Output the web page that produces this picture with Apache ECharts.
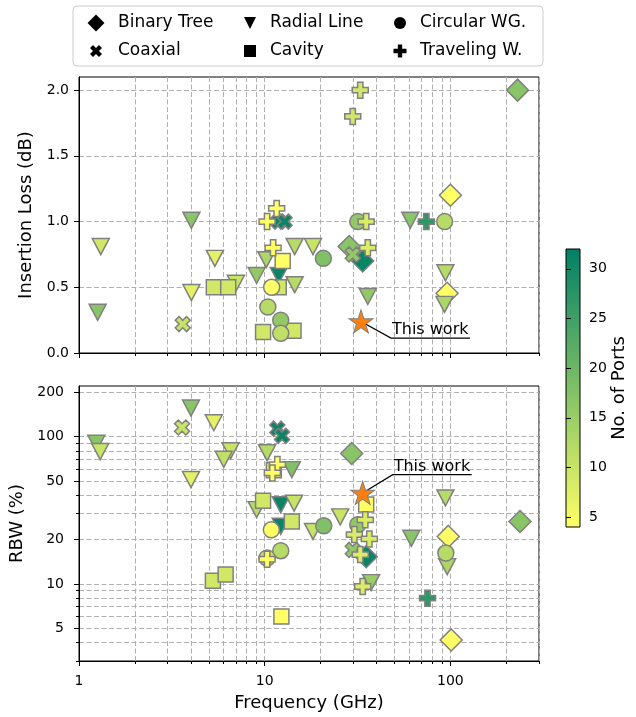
<!DOCTYPE html>
<html><head><meta charset="utf-8">
<script src="https://cdn.jsdelivr.net/npm/echarts@6/dist/echarts.min.js"></script>
<style>html,body{margin:0;padding:0;background:#fff}#c{width:636px;height:717px}</style>
</head><body><div id="c"></div>
<script>
// ---------------- data: [frequency (GHz), value, number of ports] ----------------
// Insertion loss (dB), top panel
const ilBinaryTree = [[230,2.0,17],[100,1.2,4],[28.5,0.81,17],[33.7,0.70,31],[96,0.455,4]];
const ilCoaxial    = [[3.62,0.22,10],[11.9,1.0,31],[12.8,1.0,31],[29.8,0.75,16]];
const ilRadialLine = [[1.31,0.81,9],[1.26,0.31,17],[4.03,1.01,17],[5.39,0.72,7],[4.03,0.46,7],[7.0,0.53,10],
                      [9.05,0.59,16],[10.2,0.71,13],[11.9,0.59,31],[14.5,0.81,12],[18.2,0.81,10],[14.5,0.52,12],
                      [60.8,1.01,17],[35.9,0.43,16],[94,0.61,12],[93,0.37,13]];
const ilCavity     = [[5.32,0.50,9],[6.36,0.50,9],[12.5,0.70,4],[11.9,0.50,9],[9.8,0.16,9],[14.3,0.17,9]];
const ilCircularWG = [[10.9,0.50,4],[10.4,0.35,12],[12.2,0.25,16],[12.2,0.15,11],[20.7,0.72,18],[31.7,1.0,16],[93.1,1.0,12]];
const ilTravelingW = [[11.6,1.10,4],[10.3,1.0,4],[11.1,0.80,4],[32.7,2.0,9],[29.8,1.80,9],[35.2,1.0,8],[35.9,0.80,8],[74.2,1.0,27]];
const ilThisWork   = [[33,0.24]];

// Relative bandwidth (%), bottom panel
const rbwBinaryTree = [[29.4,76.6,17],[237,26.5,17],[97.4,21.0,4],[35.2,15.3,31],[101,4.17,4]];
const rbwCoaxial    = [[3.59,115,10],[11.7,113,31],[12.4,101,31],[29.8,17.0,16]];
const rbwRadialLine = [[1.24,90,17],[1.30,79,10],[4.01,156,17],[5.32,124,7],[4.01,51,7],[6.55,80,10],[6.02,70,11],
                       [10.3,77.5,12],[9.05,31.9,12],[12.2,34.4,31],[12.2,24.6,31],[14.4,35.3,10],[14.0,59.6,18],
                       [18.2,22.7,10],[25.5,28.5,10],[94,38.3,12],[96.1,13.1,13],[61.6,20.4,17],[37.4,10.2,15]];
const rbwCavity     = [[5.26,10.5,9],[6.16,11.6,9],[12.3,6.0,4],[9.8,36.7,9],[14.0,26.5,9],[11.2,59,9],[35.2,34.5,4]];
const rbwCircularWG = [[10.86,23.3,4],[12.2,16.8,12],[10.3,15.0,10],[20.8,24.8,18],[31.7,25.2,16],[94.5,16.2,12]];
const rbwTravelingW = [[11.7,64.5,4],[11.0,56.6,4],[10.3,14.7,4],[34.8,27.2,8],[30.4,21.6,8],[36.6,20.2,8],
                       [32.7,15.8,8],[33.7,9.6,8],[75.3,8.0,27]];
const rbwThisWork   = [[33.7,41.4]];

// ticks
const xMajorTicks = [1,10,100];
const xMinorTicks = [2,3,4,5,6,7,8,9,20,30,40,50,60,70,80,90,200,300];
const ilTicks = [0,0.5,1.0,1.5,2.0];
const rbwMajorTicks = [5,10,20,50,100,200];
const rbwMinorTicks = [3,4,6,7,8,9,30,40,60,70,80,90];
const portTicks = [5,10,15,20,25,30];
const portRange = [4,32];

// ---------------- drawing ----------------
const FONT = 'DejaVu Sans';
const plusPath = 'path://M1,0H2V1H3V2H2V3H1V2H0V1H1Z';
const xPath = 'path://M212,0L283,71L212,141L283,212L212,283L141,212L71,283L0,212L71,141L0,71L71,0L141,71Z';
const triPath = 'path://M0,0L2,0L1,2Z';
function starPath(){ let s='path://'; for(let i=0;i<10;i++){ const r=i%2===0?100:38.2; const a=-Math.PI/2+i*Math.PI/5; s+=(i?'L':'M')+(100+r*Math.cos(a)).toFixed(2)+','+(100+r*Math.sin(a)).toFixed(2);} return s+'Z'; }

const types = [
  {name:'Binary Tree',  symbol:'diamond', size:22, lsize:17, il:ilBinaryTree, rbw:rbwBinaryTree},
  {name:'Coaxial',      symbol:xPath,     size:15, lsize:12, il:ilCoaxial,    rbw:rbwCoaxial},
  {name:'Radial Line',  symbol:triPath,   size:[17,16], lsize:12, il:ilRadialLine, rbw:rbwRadialLine},
  {name:'Cavity',       symbol:'rect',    size:15, lsize:12, il:ilCavity,     rbw:rbwCavity},
  {name:'Circular WG.', symbol:'circle',  size:16, lsize:12, il:ilCircularWG, rbw:rbwCircularWG},
  {name:'Traveling W.', symbol:plusPath,  size:16, lsize:13, il:ilTravelingW, rbw:rbwTravelingW}
];

const gridStroke = {color:'#b0b0b0', type:[5,2.5], width:1};
const tickLbl = {color:'#000', fontSize:14, fontFamily:FONT};
const nameTxt = {color:'#000', fontSize:18, fontFamily:FONT};
const axisLineBlack = {show:true, lineStyle:{color:'#000', width:1}};
const markStyle = {borderColor:'#808080', borderWidth:1.5, opacity:1};

function logX(gridIndex, major, showLabels){
  return {
    type:'log', logBase:10, gridIndex, min:1, max:300, position:'bottom',
    axisLine: major ? axisLineBlack : {show:false},
    axisTick: {show:true, inside:false, length: major?5:3, lineStyle:{color:'#000',width:1},
               customValues: major ? xMajorTicks : xMinorTicks},
    axisLabel: major && showLabels ? Object.assign({show:true, margin:13, customValues:xMajorTicks}, tickLbl) : {show:false},
    splitLine: {show:true, lineStyle:gridStroke},
    name: major && showLabels ? 'Frequency (GHz)' : '',
    nameLocation:'middle', nameGap:33, nameTextStyle:nameTxt
  };
}

const series = [];
types.forEach(t => series.push({
  type:'scatter', name:t.name, xAxisIndex:0, yAxisIndex:0, data:t.il,
  symbol:t.symbol, symbolSize:t.size, itemStyle:markStyle, emphasis:{disabled:true}
}));
types.forEach(t => series.push({
  type:'scatter', name:t.name, xAxisIndex:2, yAxisIndex:1, data:t.rbw,
  symbol:t.symbol, symbolSize:t.size, itemStyle:markStyle, emphasis:{disabled:true}
}));
const nData = series.length;
[ [0,0,ilThisWork], [2,1,rbwThisWork] ].forEach(([xi,yi,d]) => series.push({
  type:'scatter', name:'This work', xAxisIndex:xi, yAxisIndex:yi, data:d, symbol:starPath(), symbolSize:[24,23],
  itemStyle:{color:'#ff7f0e', borderColor:'#808080', borderWidth:1, opacity:1}, z:5, emphasis:{disabled:true}
}));

// legend: 3 columns x 2 rows
const colCx = [96, 250, 400], colTx = [118, 270, 420], rowCy = [23, 51];
const legends = types.map((t,i) => {
  const col = Math.floor(i/2), row = i%2, s = t.lsize, h = Math.max(s,17);
  return {
    show:true, selectedMode:false, orient:'horizontal', padding:0,
    left: colCx[col]-s/2, top: rowCy[row]-h/2, itemWidth:s, itemHeight:s,
    data:[{name:t.name, icon: t.symbol, itemStyle:{color:'#000', borderWidth:0, opacity:1}}],
    textStyle:{color:'#000', fontSize:17, fontFamily:FONT, padding:[0,0,0, colTx[col]-colCx[col]-s/2-5]}
  };
});

const option = {
  animation:false,
  backgroundColor:'#fff',
  textStyle:{fontFamily:FONT},
  grid:[
    {left:79, top:77, width:460, height:276, show:true, borderColor:'#000', borderWidth:1, backgroundColor:'transparent', outerBoundsMode:'none', containLabel:false},
    {left:79, top:386, width:460, height:275, show:true, borderColor:'#000', borderWidth:1, backgroundColor:'transparent', outerBoundsMode:'none', containLabel:false},
    {left:566, top:249, width:14, height:278, show:true, borderColor:'#000', borderWidth:1, outerBoundsMode:'none', containLabel:false,
     backgroundColor: new echarts.graphic.LinearGradient(0,0,0,1,[{offset:0,color:'#008066'},{offset:1,color:'#ffff66'}])}
  ],
  xAxis:[
    logX(0,true,false), logX(0,false,false), logX(1,true,true), logX(1,false,true),
    {type:'value', gridIndex:2, show:false, min:0, max:1}
  ],
  yAxis:[
    {type:'value', gridIndex:0, min:0, max:2.1, position:'left', axisLine:axisLineBlack,
     axisTick:{show:true, length:5, lineStyle:{color:'#000'}, customValues:ilTicks},
     axisLabel:Object.assign({margin:10, customValues:ilTicks, formatter:v=>Number(v).toFixed(1)}, tickLbl),
     splitLine:{show:true, lineStyle:gridStroke},
     name:'Insertion Loss (dB)', nameLocation:'middle', nameGap:44, nameTextStyle:nameTxt},
    {type:'log', logBase:10, gridIndex:1, min:3, max:220, position:'left', axisLine:axisLineBlack,
     axisTick:{show:true, length:5, lineStyle:{color:'#000'}, customValues:rbwMajorTicks},
     axisLabel:Object.assign({margin:15, customValues:rbwMajorTicks}, tickLbl),
     splitLine:{show:true, lineStyle:gridStroke},
     name:'RBW (%)', nameLocation:'middle', nameGap:51, nameTextStyle:nameTxt},
    {type:'log', logBase:10, gridIndex:1, min:3, max:220, position:'left', axisLine:{show:false},
     axisTick:{show:true, length:3, lineStyle:{color:'#000'}, customValues:rbwMinorTicks},
     axisLabel:{show:false}, splitLine:{show:true, lineStyle:gridStroke}},
    {type:'value', gridIndex:2, min:portRange[0], max:portRange[1], position:'right', axisLine:{show:false},
     axisTick:{show:true, length:5, lineStyle:{color:'#000'}, customValues:portTicks},
     axisLabel:Object.assign({margin:9, customValues:portTicks}, tickLbl),
     splitLine:{show:false},
     name:'No. of Ports', nameLocation:'middle', nameGap:28, nameTextStyle:nameTxt}
  ],
  visualMap:{type:'continuous', show:false, dimension:2, min:portRange[0], max:portRange[1],
             seriesIndex: Array.from({length:nData},(_, i)=>i),
             inRange:{color:['#ffff66','#008066'], opacity:1}},
  legend: legends,
  series: series
};

const chart = echarts.init(document.getElementById('c'), null, {renderer:'canvas'});
chart.setOption(option);

function annotation(seriesIndex, pt, dx, dy){
  const p = chart.convertToPixel({seriesIndex}, pt);
  const ux = p[0]+dx, uy = p[1]+dy;
  return [
    {type:'polyline', z:1, silent:true, shape:{points:[[p[0],p[1]],[ux,uy],[ux+79,uy]]}, style:{stroke:'#000', lineWidth:1.2, fill:null}},
    {type:'text', z:10, silent:true, x:ux+1, y:uy, style:{text:'This work', fontSize:16, fontFamily:FONT, fill:'#000', align:'left', verticalAlign:'bottom'}}
  ];
}
const g = [
  {type:'rect', z:0, silent:true, shape:{x:73, y:6, width:470, height:60, r:4}, style:{fill:'#fff', stroke:'#cccccc', lineWidth:1}}
].concat(annotation(nData, ilThisWork[0], 30, 16.6), annotation(nData+1, rbwThisWork[0], 30, -18.3));
chart.setOption({graphic:g});
</script></body></html>
